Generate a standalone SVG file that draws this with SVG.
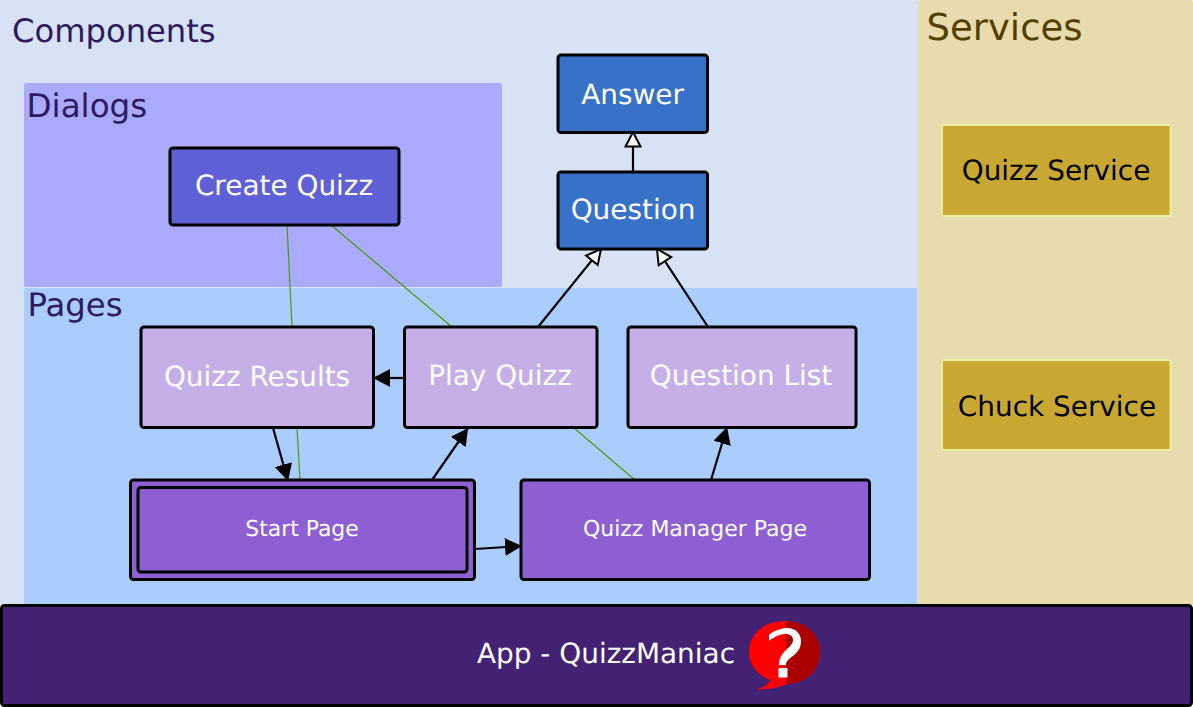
<svg xmlns="http://www.w3.org/2000/svg" width="1193" height="707" viewBox="0 0 1193 707">
<style>
text{font-family:"DejaVu Sans",sans-serif;text-anchor:middle;text-rendering:geometricPrecision}
.n{stroke:#000;stroke-width:3}
.w{fill:#fff}
.c{stroke:#000;stroke-width:2.200;fill:none}
.g{stroke:#4e9a06;stroke-width:1.200;fill:none}
.h{text-anchor:start}
.d{fill:#2e1a5c}
</style>
<defs>
<marker id="f" markerUnits="userSpaceOnUse" markerWidth="20" markerHeight="20" refX="17" refY="9" orient="auto" viewBox="0 0 20 20"><path d="M0 0L17 9L0 18z" fill="#000"/></marker>
<marker id="o" markerUnits="userSpaceOnUse" markerWidth="20" markerHeight="20" refX="16" refY="9" orient="auto" viewBox="0 0 20 20"><path d="M1.500 1.500L16 9L1.500 16.500z" fill="#fff" stroke="#000" stroke-width="2"/></marker>
</defs>
<g id="backgrounds">
<rect id="components" x="0" y="0" width="918" height="606" fill="#d7e3f4"/>
<rect id="services" x="918" y="0" width="275" height="606" rx="2" fill="#e8dcae"/>
<rect id="dialogs" x="24" y="83" width="478" height="204" rx="2" fill="#aaaaff"/>
<rect id="pages" x="24" y="288" width="893" height="318" rx="2" fill="#aaccff"/>
<text class="h d" x="12" y="42" font-size="32.200">Components</text>
<text class="h" x="926.500" y="40" fill="#524000" font-size="37">Services</text>
<text class="h d" x="26.500" y="117" font-size="32.600">Dialogs</text>
<text class="h d" x="27.500" y="316" font-size="32.300">Pages</text>
</g>
<g id="connectors">
<path class="g" d="M287 225L292 327"/>
<path class="g" d="M331 225L452 327"/>
<path class="g" d="M297 428L300 480"/>
<path class="g" d="M574 428L635 480"/>
<path class="c" marker-end="url(#o)" d="M633 172V132"/>
<path class="c" marker-end="url(#o)" d="M538 327L601 249"/>
<path class="c" marker-end="url(#o)" d="M708 327L657 249"/>
<path class="c" marker-end="url(#f)" d="M404 378H373"/>
<path class="c" marker-end="url(#f)" d="M273 428L288 481"/>
<path class="c" marker-end="url(#f)" d="M432 480L468 428"/>
<path class="c" marker-end="url(#f)" d="M475 549L522 546"/>
<path class="c" marker-end="url(#f)" d="M711 480L727 427"/>
</g>
<g id="answer"><rect class="n" x="558" y="55" width="149.500" height="77.500" rx="3" fill="#3771c8"/><text class="w" x="632.500" y="104" font-size="27.900">Answer</text></g>
<g id="question"><rect class="n" x="558" y="172" width="149.500" height="77" rx="3" fill="#3771c8"/><text class="w" x="633" y="219" font-size="27.900">Question</text></g>
<g id="create-quizz"><rect class="n" x="170" y="148" width="229" height="77" rx="3" fill="#5f5fd6"/><text class="w" x="284" y="195" font-size="27.900">Create Quizz</text></g>
<g id="quizz-results"><rect class="n" x="141" y="327" width="232.500" height="100.500" rx="3" fill="#c6aee7"/><text class="w" x="257" y="386" font-size="27.900">Quizz Results</text></g>
<g id="play-quizz"><rect class="n" x="404.500" y="327" width="192.500" height="100.500" rx="3" fill="#c6aee7"/><text class="w" x="500" y="385" font-size="27.900">Play Quizz</text></g>
<g id="question-list"><rect class="n" x="628" y="327" width="228" height="100.500" rx="3" fill="#c6aee7"/><text class="w" x="741" y="385" font-size="27.900">Question List</text></g>
<g id="start-page"><rect class="n" x="130.500" y="480" width="344" height="99.500" rx="3" fill="#8d5fd3"/><rect class="n" x="138" y="487.500" width="329" height="84.500" rx="3" fill="#8d5fd3"/><text class="w" x="302" y="535.500" font-size="21.900">Start Page</text></g>
<g id="quizz-manager-page"><rect class="n" x="521" y="480" width="348.500" height="99.500" rx="3" fill="#8d5fd3"/><text class="w" x="695" y="535.500" font-size="22">Quizz Manager Page</text></g>
<g id="quizz-service"><rect x="942" y="125" width="228.500" height="91" rx="2" fill="#c8a832" stroke="#e6f0a0" stroke-width="2"/><text x="1056" y="180" font-size="27.900">Quizz Service</text></g>
<g id="chuck-service"><rect x="942" y="360" width="228.500" height="90" rx="2" fill="#c8a832" stroke="#e6f0a0" stroke-width="2"/><text x="1057" y="416" font-size="27.900">Chuck Service</text></g>
<g id="app"><rect class="n" x="1.500" y="605.500" width="1190" height="100" rx="3" fill="#432273"/><text class="w" x="606" y="663" font-size="27.900">App - QuizzManiac</text>
<path d="M785 621C762 621 749 636 749 652C749 665 758 676 771 680C768 684 763 688 757 689C768 690 780 687 788 684C806 683 820 670 820 652C820 635 806 621 785 621z" fill="#f00"/>
<path d="M786 621C806 621 820 635 820 652C820 670 806 683 788 684L786 684z" fill="#a00"/>
<path d="M769 635C775 630 782 628 787 628C796 628 801 634 801 641C801 648 798 652 793 656C789 659 786 661 786 665H779C779 658 782 654 786 650C790 646 793 644 793 640C793 636 790 634 785 634C780 634 774 637 769 641z" fill="#fff"/>
<rect x="778.500" y="668" width="9" height="9.500" fill="#fff"/></g>
</svg>
